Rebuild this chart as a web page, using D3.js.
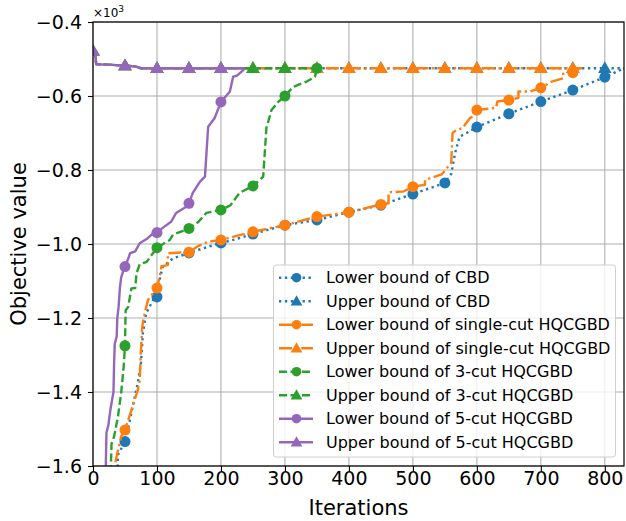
<!DOCTYPE html>
<meta charset="utf-8">
<script src="https://d3js.org/d3.v7.min.js"></script>
<style>
    body { margin: 0; background: #fff; }
    text { font-family: "DejaVu Sans", sans-serif; fill: #000; }
</style>
<svg width=626 height=521></svg>
<script>
    // values in units of 10^3, x = iteration
    var xTicks = [0, 100, 200, 300, 400, 500, 600, 700, 800];
    var yTicks = [-1.6, -1.4, -1.2, -1.0, -0.8, -0.6, -0.4];

    var labels = ["Lower bound of CBD", "Upper bound of CBD",
        "Lower bound of single-cut HQCGBD", "Upper bound of single-cut HQCGBD",
        "Lower bound of 3-cut HQCGBD", "Upper bound of 3-cut HQCGBD",
        "Lower bound of 5-cut HQCGBD", "Upper bound of 5-cut HQCGBD"];
    var colors = ["#1f77b4", "#1f77b4", "#ff7f0e", "#ff7f0e", "#2ca02c", "#2ca02c", "#9467bd", "#9467bd"];

    var cbdLower = [[38,-1.65],[39,-1.57],[50,-1.534],[56,-1.49],[62,-1.44],[70,-1.376],[75,-1.32],[78,-1.241],
        [83,-1.188],[94,-1.151],[100,-1.143],[105,-1.09],[109,-1.061],[125,-1.039],[150,-1.024],[172,-1.012],
        [200,-0.997],[219,-0.989],[250,-0.973],[300,-0.949],[350,-0.935],[400,-0.914],[450,-0.895],[500,-0.865],
        [550,-0.835],[560,-0.81],[566,-0.754],[573,-0.71],[584,-0.70],[600,-0.684],[650,-0.648],[700,-0.615],
        [750,-0.584],[800,-0.549],[830,-0.525]];
    var cbdUpper = [[0,-0.478],[3,-0.478],[5,-0.514],[30,-0.516],[50,-0.518],[66,-0.52],[75,-0.525],[100,-0.525],
        [150,-0.525],[200,-0.525],[250,-0.525],[300,-0.525],[350,-0.525],[400,-0.525],[450,-0.525],[500,-0.525],
        [550,-0.525],[600,-0.525],[650,-0.525],[700,-0.525],[750,-0.525],[800,-0.525],[830,-0.525]];

    var singleLower = [[33,-1.65],[35,-1.59],[40,-1.55],[44,-1.52],[50,-1.503],[60,-1.449],[70,-1.395],[73,-1.368],
        [75,-1.286],[77,-1.223],[81,-1.186],[86,-1.151],[100,-1.119],[104,-1.09],[107,-1.06],[117,-1.057],
        [117,-1.025],[150,-1.022],[165,-1.005],[180,-0.994],[200,-0.989],[229,-0.976],[250,-0.967],[300,-0.949],
        [350,-0.926],[400,-0.914],[450,-0.893],[462,-0.89],[462,-0.86],[485,-0.858],[500,-0.845],[519,-0.84],
        [519,-0.827],[545,-0.812],[551,-0.80],[560,-0.78],[562,-0.70],[568,-0.692],[578,-0.686],[589,-0.66],
        [595,-0.655],[595,-0.638],[600,-0.638],[630,-0.632],[632,-0.615],[650,-0.611],[665,-0.605],[665,-0.588],
        [683,-0.588],[700,-0.578],[717,-0.561],[735,-0.552],[735,-0.54],[750,-0.537],[761,-0.525]];
    var singleUpper = [[0,-0.478],[3,-0.478],[5,-0.514],[30,-0.516],[50,-0.518],[66,-0.52],[75,-0.525],[100,-0.525],
        [150,-0.525],[200,-0.525],[250,-0.525],[300,-0.525],[350,-0.525],[400,-0.525],[450,-0.525],[500,-0.525],
        [550,-0.525],[600,-0.525],[650,-0.525],[700,-0.525],[750,-0.525],[765,-0.525]];

    var cut3Lower = [[27,-1.65],[29,-1.54],[33,-1.52],[39,-1.467],[44,-1.403],[48,-1.33],[50,-1.275],[51,-1.179],
        [55,-1.17],[60,-1.12],[66,-1.119],[68,-1.079],[73,-1.055],[84,-1.048],[100,-1.010],[120,-0.989],
        [125,-0.975],[150,-0.958],[165,-0.94],[177,-0.916],[200,-0.908],[215,-0.895],[229,-0.862],[250,-0.843],
        [266,-0.818],[271,-0.687],[279,-0.638],[290,-0.615],[300,-0.600],[313,-0.575],[334,-0.561],[347,-0.548],
        [350,-0.525]];
    var cut3Upper = [[0,-0.478],[3,-0.478],[5,-0.514],[30,-0.516],[50,-0.518],[66,-0.52],[75,-0.525],[100,-0.525],
        [150,-0.525],[200,-0.525],[250,-0.525],[300,-0.525],[348,-0.525]];

    var cut5Lower = [[19,-1.65],[20,-1.60],[21,-1.51],[24,-1.49],[27,-1.45],[30,-1.42],[32,-1.40],[33,-1.32],
        [34,-1.27],[37,-1.25],[38,-1.20],[40,-1.17],[42,-1.12],[44,-1.09],[47,-1.075],[50,-1.061],[55,-1.04],
        [58,-1.025],[66,-1.02],[73,-0.998],[85,-0.985],[94,-0.971],[100,-0.969],[110,-0.955],[122,-0.94],
        [130,-0.916],[145,-0.90],[150,-0.890],[156,-0.862],[167,-0.832],[175,-0.818],[180,-0.683],[190,-0.66],
        [200,-0.616],[214,-0.588],[219,-0.548],[225,-0.545],[235,-0.530],[237,-0.525]];
    var cut5Upper = [[0,-0.478],[3,-0.478],[5,-0.514],[30,-0.516],[50,-0.518],[66,-0.52],[75,-0.525],[100,-0.525],
        [150,-0.525],[200,-0.525],[237,-0.525]];

    var seriesData = [cbdLower, cbdUpper, singleLower, singleUpper, cut3Lower, cut3Upper, cut5Lower, cut5Upper];
    var dashes = ["2.3,3.6", "2.3,3.6", "13,3.5,2.3,3.5", "13,3.5,2.3,3.5", "8,3.5", "8,3.5", null, null];

    var pl = 93, pr = 624, pt = 22, pb = 466;
    var svg = d3.select("svg");
    var x = d3.scaleLinear().domain([0, 830]).range([pl, pr]);
    var y = d3.scaleLinear().domain([-1.6, -0.4]).range([pb, pt]);

    // grid
    svg.append("g").selectAll("line").data(xTicks).enter().append("line")
        .attr("x1", d => x(d)).attr("x2", d => x(d)).attr("y1", pt).attr("y2", pb)
        .attr("stroke", "#b0b0b0").attr("stroke-width", 1.1);
    svg.append("g").selectAll("line").data(yTicks).enter().append("line")
        .attr("x1", pl).attr("x2", pr).attr("y1", d => y(d)).attr("y2", d => y(d))
        .attr("stroke", "#b0b0b0").attr("stroke-width", 1.1);

    svg.append("clipPath").attr("id", "plotclip").append("rect")
        .attr("x", pl).attr("y", pt).attr("width", pr - pl).attr("height", pb - pt);

    var plot = svg.append("g").attr("clip-path", "url(#plotclip)");
    var line = d3.line().x(d => x(d[0])).y(d => y(d[1]));

    function drawMarker(g, i, cx, cy, r) {
        if (i % 2 === 0) {
            g.append("circle").attr("cx", cx).attr("cy", cy).attr("r", r).attr("fill", colors[i]);
        } else {
            g.append("path").attr("d", d3.symbol().type(d3.symbolTriangle).size(r * r * 2.6)())
                .attr("transform", "translate(" + cx + "," + (cy + 0.8) + ")").attr("fill", colors[i]);
        }
    }

    seriesData.forEach(function(data, i) {
        var g = plot.append("g");
        g.append("path").datum(data).attr("d", line)
            .attr("fill", "none").attr("stroke", colors[i]).attr("stroke-width", 2.4)
            .attr("stroke-dasharray", dashes[i]).attr("stroke-linejoin", "round");
        data.filter(d => d[0] % 50 === 0).forEach(function(d) {
            drawMarker(g, i, x(d[0]), y(d[1]), 5.5);
        });
    });

    // spines
    svg.append("rect").attr("x", pl).attr("y", pt).attr("width", pr - pl).attr("height", pb - pt)
        .attr("fill", "none").attr("stroke", "#000").attr("stroke-width", 1.2);

    var xAxis = svg.append("g").attr("transform", "translate(0," + pb + ")")
        .call(d3.axisBottom(x).tickValues(xTicks).tickSize(5).tickPadding(4).tickFormat(d3.format("d")));
    var yAxis = svg.append("g").attr("transform", "translate(" + pl + ",0)")
        .call(d3.axisLeft(y).tickValues(yTicks).tickSize(5).tickPadding(6).tickFormat(d3.format(".1f")));
    [xAxis, yAxis].forEach(function(a) {
        a.select(".domain").remove();
        a.selectAll("text").style("font-size", "19px").attr("fill", "#000");
        a.selectAll("line").attr("stroke", "#000").attr("stroke-width", 1.1);
    });
    xAxis.selectAll("text").attr("y", 6);

    svg.append("text").attr("x", (pl + pr) / 2).attr("y", 515).attr("text-anchor", "middle")
        .style("font-size", "21px").text("Iterations");
    svg.append("text").attr("transform", "translate(26," + ((pt + pb) / 2) + ") rotate(-90)")
        .attr("text-anchor", "middle").style("font-size", "21px").text("Objective value");

    var mult = svg.append("text").attr("x", pl).attr("y", 17).style("font-size", "12px");
    mult.append("tspan").text("×10");
    mult.append("tspan").attr("dy", -5).style("font-size", "9px").text("3");

    // legend
    var lg = svg.append("g");
    lg.append("rect").attr("x", 273.5).attr("y", 265).attr("width", 342).attr("height", 192)
        .attr("rx", 3).attr("fill", "#fff").attr("fill-opacity", 0.8).attr("stroke", "#d0d0d0");
    labels.forEach(function(lab, i) {
        var cy = 277.7 + i * 23.5;
        lg.append("line").attr("x1", 279).attr("x2", 313).attr("y1", cy).attr("y2", cy)
            .attr("stroke", colors[i]).attr("stroke-width", 2.4).attr("stroke-dasharray", dashes[i]);
        drawMarker(lg, i, 296.5, cy, 4.8);
        lg.append("text").attr("x", 326).attr("y", cy).attr("dy", "0.35em")
            .style("font-size", "16px").text(lab);
    });
</script>
